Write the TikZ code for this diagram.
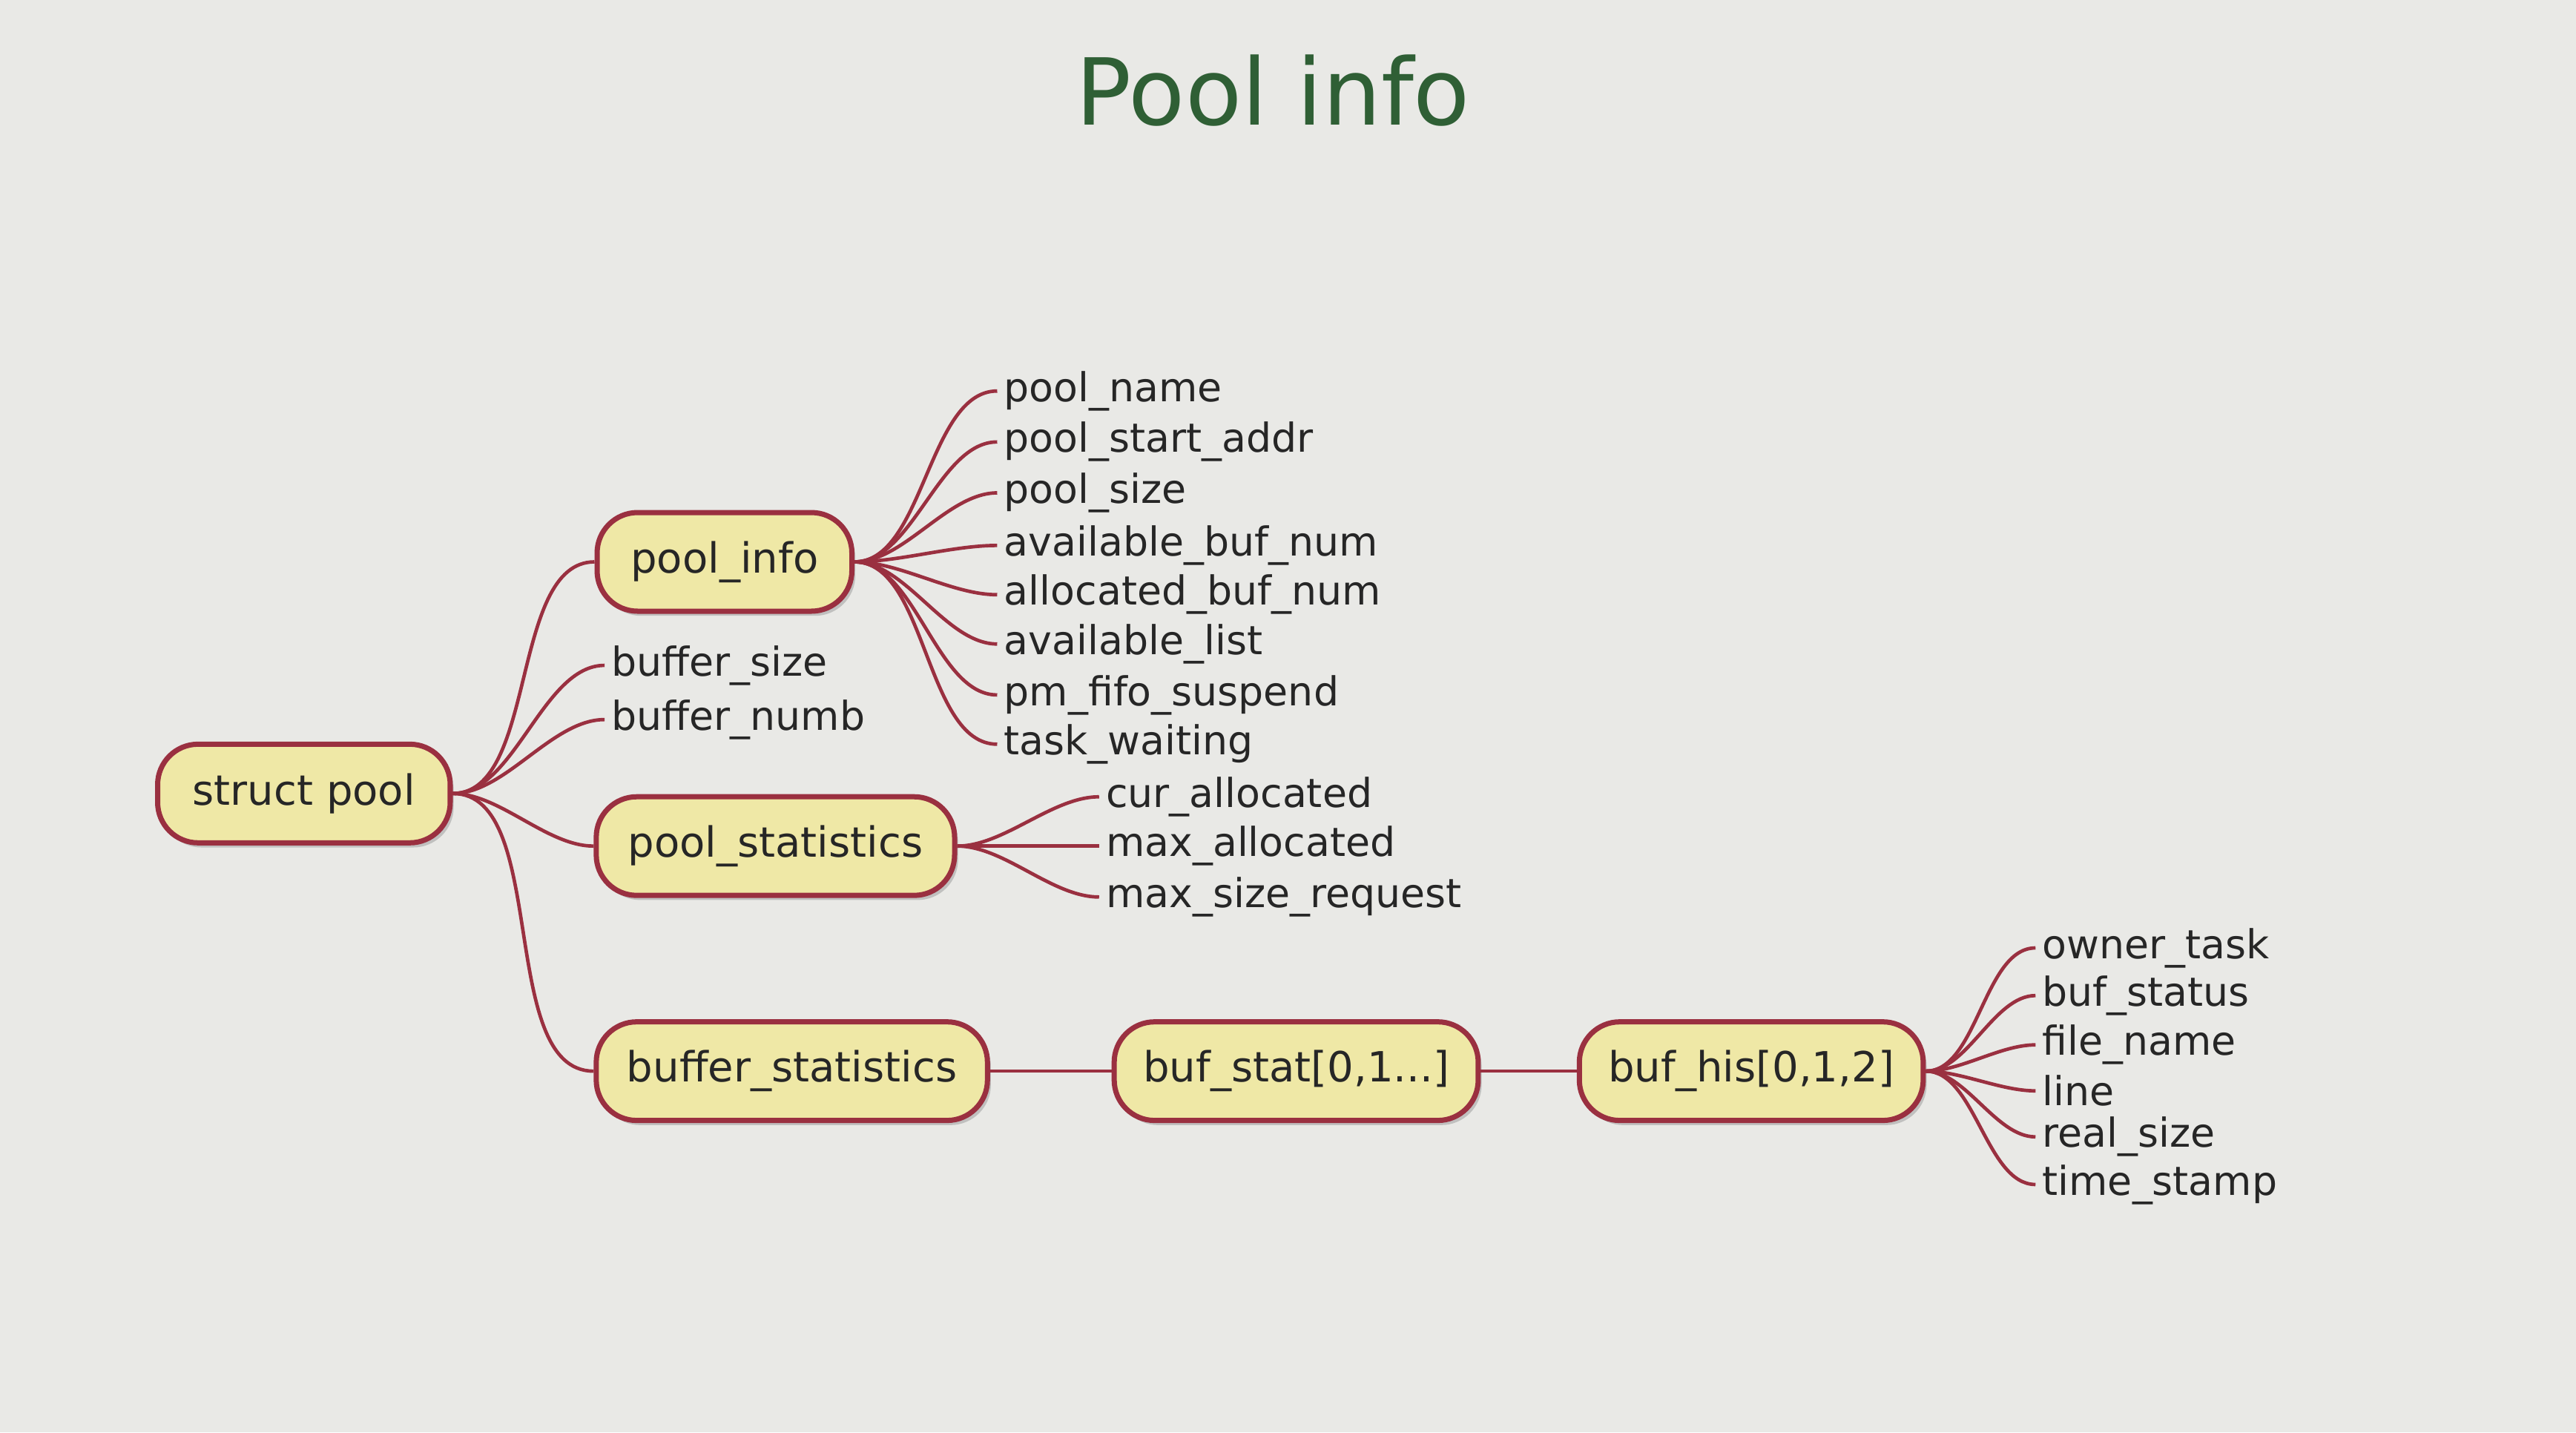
\documentclass[tikz,border=0pt]{standalone}
\usepackage{fontspec}
\setmainfont{DejaVu Sans}
\usetikzlibrary{shadows}
\definecolor{bg}{HTML}{E9E9E6}
\definecolor{nodefill}{HTML}{EFE8A6}
\definecolor{edge}{HTML}{9A3040}
\definecolor{titlec}{HTML}{2F5F35}
\begin{document}
\begin{tikzpicture}[x=0.01cm,y=-0.01cm,
  box/.style={draw=edge,line width=0.9pt,fill=nodefill,rounded corners=7pt,minimum height=0.6cm,inner xsep=5pt,font=\fontsize{7.2}{9}\selectfont,text=black!85,drop shadow={shadow xshift=0.6pt,shadow yshift=-0.8pt,fill=black!40}},
  leaf/.style={anchor=west,inner xsep=1pt,inner ysep=0pt,font=\fontsize{6.9}{8}\selectfont,text=black!85},
  con/.style={draw=edge,line width=0.6pt},
  br/.style={con,out=0,in=180,looseness=0.8}]
\fill[bg] (0,0) rectangle (1568,872);
\useasboundingbox (0,0) rectangle (1568,872);
\node[font=\fontsize{16}{18}\selectfont,text=titlec] (title) at (775,55) {Pool info};
\node[box,minimum width=1.78cm] (sp) at (185,483) {struct pool};
\node[box,minimum width=1.55cm] (pi) at (441,342) {pool\_info};
\node[box,minimum width=2.18cm] (ps) at (472,515) {pool\_statistics};
\node[box,minimum width=2.38cm] (bs) at (482,652) {buffer\_statistics};
\node[box,minimum width=2.06cm] (bst) at (789,652) {buf\_stat[0,1...]};
\node[box,minimum width=1.82cm] (bh) at (1066,652) {buf\_his[0,1,2]};
\node[leaf] (bsz) at (368,405) {buffer\_size};
\node[leaf] (bnb) at (368,438) {buffer\_numb};
\foreach \n/\t/\y in {a/pool\_name/238,b/pool\_start\_addr/269,c/pool\_size/300,d/available\_buf\_num/332,e/allocated\_buf\_num/362,f/available\_list/392,g/pm\_fifo\_suspend/423,h/task\_waiting/453}
  \node[leaf] (pi\n) at (607,\y) {\t};
\foreach \n/\t/\y in {a/cur\_allocated/485,b/max\_allocated/515,c/max\_size\_request/546}
  \node[leaf] (ps\n) at (669,\y) {\t};
\foreach \n/\t/\y in {a/owner\_task/577,b/buf\_status/606,c/file\_name/636,d/line/664,e/real\_size/692,f/time\_stamp/721}
  \node[leaf] (bh\n) at (1239,\y) {\t};
\foreach \c in {pi,ps,bs,bsz,bnb} \draw[br] (sp.east) to (\c.west);
\foreach \n in {a,...,h} \draw[br] (pi.east) to (pi\n.west);
\foreach \n in {a,b,c} \draw[br] (ps.east) to (ps\n.west);
\foreach \n in {a,...,f} \draw[br] (bh.east) to (bh\n.west);
\draw[con] (bs.east) -- (bst.west);
\draw[con] (bst.east) -- (bh.west);
\end{tikzpicture}
\end{document}
